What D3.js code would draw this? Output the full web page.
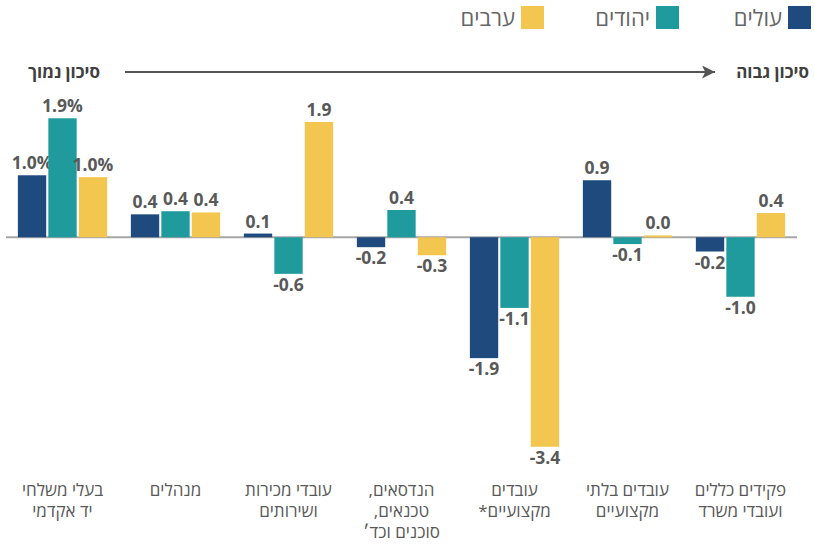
<!DOCTYPE html>
<html lang="he">
<head>
<meta charset="utf-8">
<script src="https://cdn.jsdelivr.net/npm/d3@7"></script>
<style>
  body { margin: 0; background: #fff; }
  svg { display: block; font-family: "Open Sans", sans-serif; }
</style>
</head>
<body>
<svg width="814" height="548"></svg>
<script>
// categories, left to right (each entry = lines of the label)
const categories = [
  ["בעלי משלחי", "יד אקדמי"],
  ["מנהלים"],
  ["עובדי מכירות", "ושירותים"],
  ["הנדסאים,", "טכנאים,", "סוכנים וכד׳"],
  ["עובדים", "מקצועיים*"],
  ["עובדים בלתי", "מקצועיים"],
  ["פקידים כללים", "ועובדי משרד"]
];
const seriesNames = ["עולים", "יהודים", "ערבים"];
const olim =   [1.00, 0.37, 0.06, -0.16, -1.95, 0.92, -0.23];
const jews =   [1.92, 0.42, -0.59, 0.44, -1.14, -0.11, -0.96];
const arabs =  [0.97, 0.40, 1.86, -0.29, -3.38, 0.03, 0.39];
const colors = ["#1f4a7e", "#1f9b9d", "#f2c64f"];

const series = [olim, jews, arabs];

const svg = d3.select("svg");

let x0 = d3.scaleBand()
  .domain(d3.range(categories.length))
  .range([6, 797])
  .paddingInner(0.21)
  .paddingOuter(0.105);

let x1 = d3.scaleBand()
  .domain(d3.range(series.length))
  .range([0, x0.bandwidth()])
  .paddingInner(0.07);

let y = d3.scaleLinear()
  .domain([-3.4, 1.9])
  .range([448, 119.5]);

// zero line
svg.append("line")
  .attr("x1", 6).attr("x2", 797)
  .attr("y1", y(0)).attr("y2", y(0))
  .attr("stroke", "#a6a6a6")
  .attr("stroke-width", 2);

const groups = svg.selectAll("g.grp")
  .data(categories)
  .join("g")
    .attr("class", "grp")
    .attr("transform", (d, i) => `translate(${x0(i)},0)`);

groups.each(function(cat, ci) {
  let g = d3.select(this);
  series.forEach((vals, si) => {
    let v = vals[ci];
    g.append("rect")
      .attr("x", x1(si))
      .attr("width", x1.bandwidth())
      .attr("y", v >= 0 ? y(v) : y(0))
      .attr("height", Math.max(Math.abs(y(v) - y(0)), 2))
      .attr("fill", colors[si]);

    g.append("text")
      .attr("x", x1(si) + x1.bandwidth() / 2)
      .attr("y", v >= 0 ? y(v) - 6 : y(v) + 17)
      .attr("text-anchor", "middle")
      .attr("font-size", 17.5)
      .attr("font-weight", "bold")
      .attr("fill", "#595959")
      .text(v.toFixed(1) + (ci === 0 ? "%" : ""));
  });

  // category label
  let t = g.append("text")
    .attr("x", x0.bandwidth() / 2)
    .attr("y", 496)
    .attr("text-anchor", "middle")
    .attr("direction", "rtl")
    .attr("font-size", 17)
    .attr("fill", "#595959");
  cat.forEach((line, li) => {
    t.append("tspan")
      .attr("x", x0.bandwidth() / 2)
      .attr("dy", li === 0 ? 0 : 21)
      .text(line);
  });
});

// legend (right to left)
const legendX = [788, 656, 521];
seriesNames.forEach((name, i) => {
  svg.append("rect")
    .attr("x", legendX[i]).attr("y", 6)
    .attr("width", 23).attr("height", 23)
    .attr("fill", colors[i]);
  svg.append("text")
    .attr("x", legendX[i] - 6)
    .attr("y", 26)
    .attr("text-anchor", "start")
    .attr("direction", "rtl")
    .attr("font-size", 22)
    .attr("fill", "#666")
    .text(name);
});

// risk arrow
svg.append("defs").append("marker")
  .attr("id", "arr")
  .attr("viewBox", "0 0 10 10")
  .attr("refX", 10).attr("refY", 5)
  .attr("markerWidth", 16).attr("markerHeight", 13)
  .attr("markerUnits", "userSpaceOnUse")
  .attr("orient", "auto")
  .append("path")
    .attr("d", "M0,0 L10,5 L0,10 L2.5,5 Z")
    .attr("fill", "#555");

svg.append("line")
  .attr("x1", 125).attr("x2", 715)
  .attr("y1", 72).attr("y2", 72)
  .attr("stroke", "#555")
  .attr("stroke-width", 2)
  .attr("marker-end", "url(#arr)");

svg.append("text")
  .attr("x", 100).attr("y", 78)
  .attr("text-anchor", "start")
  .attr("direction", "rtl")
  .attr("font-size", 17)
  .attr("font-weight", "bold")
  .attr("fill", "#404040")
  .text("סיכון נמוך");

svg.append("text")
  .attr("x", 809).attr("y", 78)
  .attr("text-anchor", "start")
  .attr("direction", "rtl")
  .attr("font-size", 17)
  .attr("font-weight", "bold")
  .attr("fill", "#404040")
  .text("סיכון גבוה");
</script>
</body>
</html>
